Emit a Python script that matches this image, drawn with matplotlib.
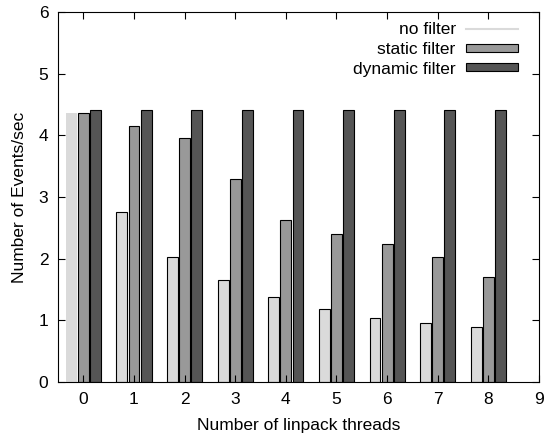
import numpy as np
import matplotlib.pyplot as plt
from matplotlib.patches import Patch
from matplotlib.lines import Line2D

plt.rcParams['font.family'] = ['Liberation Sans', 'DejaVu Sans']

threads = [0, 1, 2, 3, 4, 5, 6, 7, 8]
no_filter = [4.36, 2.75, 2.03, 1.65, 1.38, 1.19, 1.04, 0.95, 0.89]
static_filter = [4.37, 4.15, 3.96, 3.29, 2.63, 2.40, 2.23, 2.02, 1.71]
dynamic_filter = [4.41, 4.41, 4.41, 4.41, 4.41, 4.41, 4.41, 4.41, 4.41]

c_none = '#dadada'
c_static = '#999999'
c_dyn = '#555555'

fig = plt.figure(figsize=(5.48, 4.46), dpi=100)
ax = fig.add_axes([58/548, 1 - 382/446, (539 - 58)/548, (382 - 12)/446])

x = np.array(threads)
w = 0.215
edges = ['none'] + ['black'] * (len(threads) - 1)
ax.bar(x - 0.24, no_filter, w, color=c_none, edgecolor=edges, linewidth=0.8)
ax.bar(x, static_filter, w, color=c_static, edgecolor='black', linewidth=0.8)
ax.bar(x + 0.24, dynamic_filter, w, color=c_dyn, edgecolor='black', linewidth=0.8)

ax.set_xlim(-0.5, 9)
ax.set_ylim(0, 6)
ax.set_xticks(range(10))
ax.set_yticks(range(7))
ax.tick_params(direction='in', top=True, right=True, labelsize=12.5, length=5, width=0.8, pad=7)
ax.set_xlabel('Number of linpack threads', fontsize=12.5, labelpad=8)
ax.set_ylabel('Number of Events/sec', fontsize=12.5, labelpad=8)

handles = [
    Line2D([0], [0], color=c_none, linewidth=1.5),
    Patch(facecolor=c_static, edgecolor='black', linewidth=0.8),
    Patch(facecolor=c_dyn, edgecolor='black', linewidth=0.8),
]
ax.legend(handles, ['no filter', 'static filter', 'dynamic filter'],
          loc='upper right', bbox_to_anchor=(1, 1.028), frameon=False,
          markerfirst=False, fontsize=12.5,
          handlelength=3.0, handleheight=0.35, labelspacing=0.26,
          borderaxespad=1.0, borderpad=0.2, handletextpad=0.6)

fig.savefig('out.png', dpi=100)
